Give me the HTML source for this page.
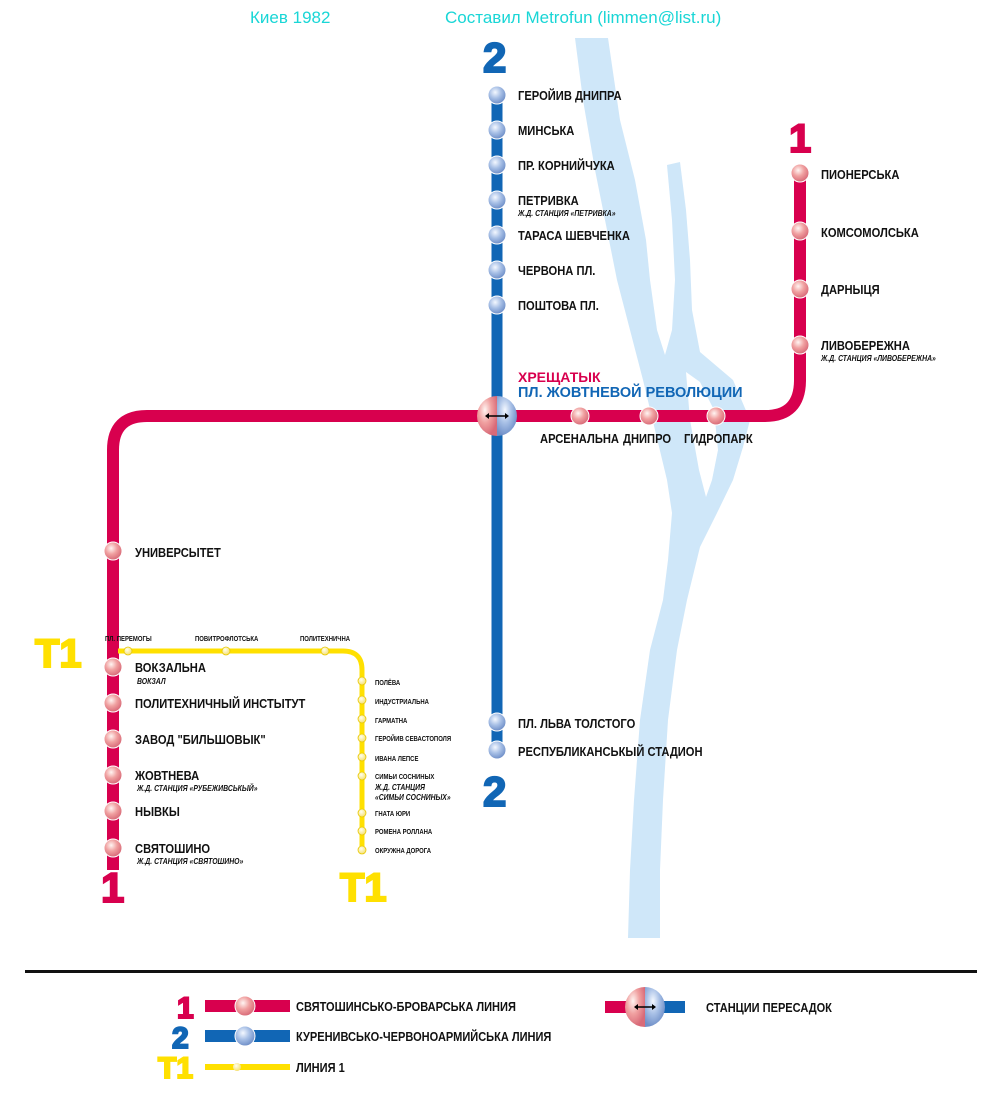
<!DOCTYPE html>
<html><head><meta charset="utf-8"><style>
html,body{margin:0;padding:0;background:#fff;}
svg{display:block;}
text{font-family:"Liberation Sans","DejaVu Sans",sans-serif;}
.s{font-size:13px;font-weight:bold;fill:#111;}
.i{font-size:8px;font-style:italic;font-weight:bold;fill:#111;}
.y{font-size:7px;font-weight:bold;fill:#111;}
.big{font-weight:bold;stroke-width:2;}
</style></head><body>
<svg width="1000" height="1100" viewBox="0 0 1000 1100" xmlns="http://www.w3.org/2000/svg">
<defs>
<radialGradient id="rg" cx="40%" cy="35%" r="65%"><stop offset="0" stop-color="#fff5f2"/><stop offset="0.5" stop-color="#f0a0a0"/><stop offset="1" stop-color="#d86a78"/></radialGradient>
<radialGradient id="bg" cx="40%" cy="35%" r="65%"><stop offset="0" stop-color="#f4f8ff"/><stop offset="0.5" stop-color="#a8c0e6"/><stop offset="1" stop-color="#6f8fc8"/></radialGradient>
<radialGradient id="yg" cx="40%" cy="35%" r="65%"><stop offset="0" stop-color="#fffff0"/><stop offset="1" stop-color="#f5e070"/></radialGradient>
</defs>

<!-- river -->
<path fill="#cfe7f9" d="M575,38 L583,100 L595,170 L607,230 L617,280 L630,330 L643,380 L655,430 L667,480 L672,513 L668,560 L663,600 L650,650 L640,720 L634,800 L630,870 L628,938 L660,938 L660,870 L663,800 L668,720 L677,650 L687,600 L700,547 L717,513 L733,480 L743,447 L750,420 L733,380 L700,352 L692,310 L690,260 L686,210 L680,162 L667,165 L672,220 L675,280 L672,330 L665,355 L657,330 L650,280 L646,240 L635,180 L620,120 L608,38 Z"/>
<path fill="#fff" d="M686,372 L700,382 L714,410 L718,450 L712,480 L706,497 L699,470 L690,420 Z"/>

<!-- header -->
<text x="250" y="23" style="font-size:17px;fill:#19d6d6">Киев 1982</text>
<text x="445" y="23" style="font-size:17px;fill:#19d6d6">Составил Metrofun (limmen@list.ru)</text>

<!-- lines -->
<path d="M113,870 L113,450 Q113,416 147,416 L765,416 Q800,416 800,380 L800,170" fill="none" stroke="#d8004e" stroke-width="12"/>
<line x1="497" y1="92" x2="497" y2="752" stroke="#1166b5" stroke-width="11"/>
<path d="M118,651 L343,651 Q362,651 362,670 L362,851" fill="none" stroke="#ffe000" stroke-width="5"/>

<!-- big labels -->
<text class="big" x="483" y="72" font-size="42" fill="#1166b5" stroke="#1166b5">2</text>
<text class="big" x="483" y="806" font-size="42" fill="#1166b5" stroke="#1166b5">2</text>
<text class="big" x="789" y="152" font-size="40" fill="#d8004e" stroke="#d8004e">1</text>
<text class="big" x="101" y="902" font-size="42" fill="#d8004e" stroke="#d8004e">1</text>
<text class="big" x="35" y="667" font-size="40" fill="#ffe000" stroke="#ffe000">T1</text>
<text class="big" x="340" y="901" font-size="40" fill="#ffe000" stroke="#ffe000">T1</text>

<!-- blue stations -->
<g fill="url(#bg)" stroke="#fff" stroke-width="1">
<circle cx="497" cy="95" r="9"/><circle cx="497" cy="130" r="9"/><circle cx="497" cy="165" r="9"/><circle cx="497" cy="200" r="9"/><circle cx="497" cy="235" r="9"/><circle cx="497" cy="270" r="9"/><circle cx="497" cy="305" r="9"/><circle cx="497" cy="722" r="9"/><circle cx="497" cy="750" r="9"/>
</g>
<text class="s" transform="translate(518,100) scale(0.86,1)">ГЕРОЙИВ ДНИПРА</text>
<text class="s" transform="translate(518,135) scale(0.86,1)">МИНСЬКА</text>
<text class="s" transform="translate(518,170) scale(0.86,1)">ПР. КОРНИЙЧУКА</text>
<text class="s" transform="translate(518,205) scale(0.86,1)">ПЕТРИВКА</text>
<text class="i" transform="translate(518,216) scale(0.86,1)">Ж.Д. СТАНЦИЯ «ПЕТРИВКА»</text>
<text class="s" transform="translate(518,240) scale(0.86,1)">ТАРАСА ШЕВЧЕНКА</text>
<text class="s" transform="translate(518,275) scale(0.86,1)">ЧЕРВОНА ПЛ.</text>
<text class="s" transform="translate(518,310) scale(0.86,1)">ПОШТОВА ПЛ.</text>
<text class="s" transform="translate(518,728) scale(0.86,1)">ПЛ. ЛЬВА ТОЛСТОГО</text>
<text class="s" transform="translate(518,756) scale(0.86,1)">РЕСПУБЛИКАНСЬКЫЙ СТАДИОН</text>

<!-- red stations -->
<g fill="url(#rg)" stroke="#fff" stroke-width="1">
<circle cx="800" cy="173" r="9"/><circle cx="800" cy="231" r="9"/><circle cx="800" cy="289" r="9"/><circle cx="800" cy="345" r="9"/>
<circle cx="580" cy="416" r="9"/><circle cx="649" cy="416" r="9"/><circle cx="716" cy="416" r="9"/>
<circle cx="113" cy="551" r="9"/><circle cx="113" cy="667" r="9"/><circle cx="113" cy="703" r="9"/><circle cx="113" cy="739" r="9"/><circle cx="113" cy="775" r="9"/><circle cx="113" cy="811" r="9"/><circle cx="113" cy="848" r="9"/>
</g>
<text class="s" transform="translate(821,179) scale(0.86,1)">ПИОНЕРСЬКА</text>
<text class="s" transform="translate(821,237) scale(0.86,1)">КОМСОМОЛСЬКА</text>
<text class="s" transform="translate(821,294) scale(0.86,1)">ДАРНЫЦЯ</text>
<text class="s" transform="translate(821,350) scale(0.86,1)">ЛИВОБЕРЕЖНА</text>
<text class="i" transform="translate(821,361) scale(0.86,1)">Ж.Д. СТАНЦИЯ «ЛИВОБЕРЕЖНА»</text>
<text class="s" transform="translate(540,443) scale(0.86,1)">АРСЕНАЛЬНА</text>
<text class="s" transform="translate(623,443) scale(0.86,1)">ДНИПРО</text>
<text class="s" transform="translate(684,443) scale(0.86,1)">ГИДРОПАРК</text>
<text class="s" transform="translate(135,557) scale(0.86,1)">УНИВЕРСЫТЕТ</text>
<text class="s" transform="translate(135,672) scale(0.86,1)">ВОКЗАЛЬНА</text>
<text class="i" transform="translate(137,684) scale(0.86,1)">ВОКЗАЛ</text>
<text class="s" transform="translate(135,708) scale(0.86,1)">ПОЛИТЕХНИЧНЫЙ ИНСТЫТУТ</text>
<text class="s" transform="translate(135,744) scale(0.86,1)">ЗАВОД "БИЛЬШОВЫК"</text>
<text class="s" transform="translate(135,780) scale(0.86,1)">ЖОВТНЕВА</text>
<text class="i" transform="translate(137,791) scale(0.86,1)">Ж.Д. СТАНЦИЯ «РУБЕЖИВСЬКЫЙ»</text>
<text class="s" transform="translate(135,816) scale(0.86,1)">НЫВКЫ</text>
<text class="s" transform="translate(135,853) scale(0.86,1)">СВЯТОШИНО</text>
<text class="i" transform="translate(137,864) scale(0.86,1)">Ж.Д. СТАНЦИЯ «СВЯТОШИНО»</text>

<!-- transfer -->
<path d="M497,396 A20,20 0 0 0 497,436 Z" fill="url(#rg)"/>
<path d="M497,396 A20,20 0 0 1 497,436 Z" fill="url(#bg)"/>
<line x1="487" y1="416" x2="507" y2="416" stroke="#000" stroke-width="1.5"/>
<path d="M485,416 l4,-3 v6z M509,416 l-4,-3 v6z" fill="#000"/>
<text x="518" y="382" style="font-size:14px;font-weight:bold;fill:#d8004e">ХРЕЩАТЫК</text>
<text x="518" y="397" style="font-size:14.5px;font-weight:bold;fill:#1166b5">ПЛ. ЖОВТНЕВОЙ РЕВОЛЮЦИИ</text>

<!-- yellow -->
<g fill="url(#yg)" stroke="#e8c800" stroke-width="0.8">
<circle cx="128" cy="651" r="4"/><circle cx="226" cy="651" r="4"/><circle cx="325" cy="651" r="4"/>
<circle cx="362" cy="681" r="4"/><circle cx="362" cy="700" r="4"/><circle cx="362" cy="719" r="4"/><circle cx="362" cy="738" r="4"/><circle cx="362" cy="757" r="4"/><circle cx="362" cy="776" r="4"/><circle cx="362" cy="813" r="4"/><circle cx="362" cy="831" r="4"/><circle cx="362" cy="850" r="4"/>
</g>
<text class="y" transform="translate(105,641) scale(0.85,1)">ПЛ. ПЕРЕМОГЫ</text>
<text class="y" transform="translate(195,641) scale(0.85,1)">ПОВИТРОФЛОТСЬКА</text>
<text class="y" transform="translate(300,641) scale(0.85,1)">ПОЛИТЕХНИЧНА</text>
<text class="y" transform="translate(375,685) scale(0.85,1)">ПОЛЁВА</text>
<text class="y" transform="translate(375,704) scale(0.85,1)">ИНДУСТРИАЛЬНА</text>
<text class="y" transform="translate(375,723) scale(0.85,1)">ГАРМАТНА</text>
<text class="y" transform="translate(375,741) scale(0.85,1)">ГЕРОЙИВ СЕВАСТОПОЛЯ</text>
<text class="y" transform="translate(375,761) scale(0.85,1)">ИВАНА ЛЕПСЕ</text>
<text class="y" transform="translate(375,779) scale(0.85,1)">СИМЬИ СОСНИНЫХ</text>
<text class="i" transform="translate(375,790) scale(0.85,1)">Ж.Д. СТАНЦИЯ</text>
<text class="i" transform="translate(375,800) scale(0.85,1)">«СИМЬИ СОСНИНЫХ»</text>
<text class="y" transform="translate(375,816) scale(0.85,1)">ГНАТА ЮРИ</text>
<text class="y" transform="translate(375,834) scale(0.85,1)">РОМЕНА РОЛЛАНА</text>
<text class="y" transform="translate(375,853) scale(0.85,1)">ОКРУЖНА ДОРОГА</text>

<!-- legend -->
<rect x="25" y="970" width="952" height="3" fill="#111"/>
<text class="big" x="177" y="1018" font-size="30" fill="#d8004e" stroke="#d8004e">1</text>
<rect x="205" y="1000" width="85" height="12" fill="#d8004e"/>
<circle cx="245" cy="1006" r="10" fill="url(#rg)" stroke="#fff"/>
<text class="s" transform="translate(296,1011) scale(0.85,1)">СВЯТОШИНСЬКО-БРОВАРСЬКА ЛИНИЯ</text>
<text class="big" x="172" y="1048" font-size="30" fill="#1166b5" stroke="#1166b5">2</text>
<rect x="205" y="1030" width="85" height="12" fill="#1166b5"/>
<circle cx="245" cy="1036" r="10" fill="url(#bg)" stroke="#fff"/>
<text class="s" transform="translate(296,1041) scale(0.85,1)">КУРЕНИВСЬКО-ЧЕРВОНОАРМИЙСЬКА ЛИНИЯ</text>
<text class="big" x="158" y="1078" font-size="30" fill="#ffe000" stroke="#ffe000">T1</text>
<rect x="205" y="1064" width="85" height="6" fill="#ffe000"/>
<circle cx="237" cy="1067" r="4" fill="url(#yg)"/>
<text class="s" transform="translate(296,1072) scale(0.85,1)">ЛИНИЯ 1</text>
<rect x="605" y="1001" width="40" height="12" fill="#d8004e"/>
<rect x="645" y="1001" width="40" height="12" fill="#1166b5"/>
<path d="M645,987 A20,20 0 0 0 645,1027 Z" fill="url(#rg)"/>
<path d="M645,987 A20,20 0 0 1 645,1027 Z" fill="url(#bg)"/>
<line x1="636" y1="1007" x2="654" y2="1007" stroke="#000" stroke-width="1.5"/>
<path d="M634,1007 l4,-3 v6z M656,1007 l-4,-3 v6z" fill="#000"/>
<text class="s" transform="translate(706,1012) scale(0.85,1)">СТАНЦИИ ПЕРЕСАДОК</text>
</svg>
</body></html>
